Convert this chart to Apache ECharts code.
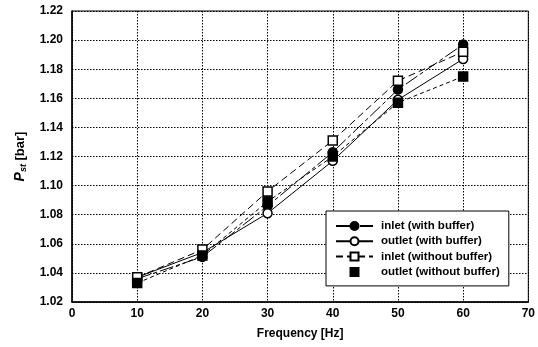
<!DOCTYPE html>
<html><head><meta charset="utf-8">
<script src="https://cdn.jsdelivr.net/npm/echarts@6/dist/echarts.min.js"></script>
<style>html,body{margin:0;padding:0;background:#fff}#c{width:538px;height:347px}</style>
</head><body><div id="c"></div>
<script>
var freq = [10, 20, 30, 40, 50, 60];
var inletWithBuffer = [1.036, 1.051, 1.086, 1.123, 1.166, 1.197];
var outletWithBuffer = [1.037, 1.054, 1.081, 1.117, 1.159, 1.187];
var inletWithoutBuffer = [1.037, 1.056, 1.096, 1.131, 1.172, 1.192];
var outletWithoutBuffer = [1.033, 1.052, 1.089, 1.120, 1.157, 1.175];
var seriesNames = ['inlet (with buffer)', 'outlet (with buffer)', 'inlet (without buffer)', 'outlet (without buffer)'];
var xTicks = [0, 10, 20, 30, 40, 50, 60, 70];
var yTicks = [1.02, 1.04, 1.06, 1.08, 1.10, 1.12, 1.14, 1.16, 1.18, 1.20, 1.22];

function pairs(v){ return freq.map(function(f,i){return [f, v[i]];}); }
var font = 'Liberation Sans, Arial, sans-serif';
function mk(name, data, symbol, fill, dash){
  return {
    name: name, type: 'line', data: pairs(data), symbol: symbol, symbolSize: 9,
    itemStyle: {color: fill, borderColor: '#000', borderWidth: 1.5},
    lineStyle: {color: '#000', width: 1, type: dash},
    z: 3
  };
}
var chart = echarts.init(document.getElementById('c'), null, {renderer: 'canvas'});
chart.setOption({
  animation: false,
  backgroundColor: '#fff',
  grid: {left: 72, right: 8, top: 11, bottom: 45, show: true, borderColor: '#000', borderWidth: 1, backgroundColor: 'transparent'},
  xAxis: {
    type: 'value', min: 0, max: 70, interval: 10,
    name: 'Frequency [Hz]', nameLocation: 'middle', nameGap: 26,
    nameTextStyle: {fontFamily: font, fontWeight: 'bold', fontSize: 12, color: '#000'},
    axisLine: {show: true, lineStyle: {color: '#000', width: 1.5}},
    axisTick: {show: false},
    axisLabel: {fontFamily: font, fontWeight: 'bold', fontSize: 12, color: '#000', margin: 6,
      formatter: function(v){ return xTicks.indexOf(v) >= 0 ? String(v) : ''; }},
    splitLine: {show: true, lineStyle: {color: '#000', type: [1.5, 1.5], width: 1}}
  },
  yAxis: {
    type: 'value', min: 1.02, max: 1.22, interval: 0.02,
    name: '{p|P}{s|st} [bar]', nameLocation: 'middle', nameGap: 44,
    nameTextStyle: {fontFamily: font, fontWeight: 'bold', fontSize: 13, color: '#000',
      rich: {p: {fontStyle: 'italic', fontWeight: 'bold', fontSize: 14, fontFamily: font},
             s: {fontStyle: 'italic', fontWeight: 'bold', fontSize: 9, fontFamily: font, verticalAlign: 'bottom', padding: [6,0,0,0]}}},
    axisLine: {show: true, lineStyle: {color: '#000', width: 1.5}},
    axisTick: {show: false},
    axisLabel: {fontFamily: font, fontWeight: 'bold', fontSize: 12, color: '#000', margin: 9,
      formatter: function(v){ return v.toFixed(2); }},
    splitLine: {show: true, lineStyle: {color: '#000', type: [1.5, 1.5], width: 1}}
  },
  legend: {
    show: true, orient: 'vertical', left: 326, top: 211, width: 185, height: 73,
    padding: [9, 9, 8, 9], itemGap: 3.3, itemWidth: 37, itemHeight: 10,
    backgroundColor: '#fff', borderColor: '#000', borderWidth: 1, borderRadius: 0,
    textStyle: {fontFamily: font, fontWeight: 'bold', fontSize: 11.5, color: '#000', padding: [0,0,0,3]},
    data: [
      {name: seriesNames[0]},
      {name: seriesNames[1]},
      {name: seriesNames[2]},
      {name: seriesNames[3], lineStyle: {opacity: 0}}
    ]
  },
  series: [
    mk(seriesNames[0], inletWithBuffer, 'circle', '#000', [14, 3, 4, 3]),
    mk(seriesNames[1], outletWithBuffer, 'circle', '#fff', 'solid'),
    mk(seriesNames[2], inletWithoutBuffer, 'rect', '#fff', [7, 4]),
    mk(seriesNames[3], outletWithoutBuffer, 'rect', '#000', [4, 3])
  ]
});
</script></body></html>
